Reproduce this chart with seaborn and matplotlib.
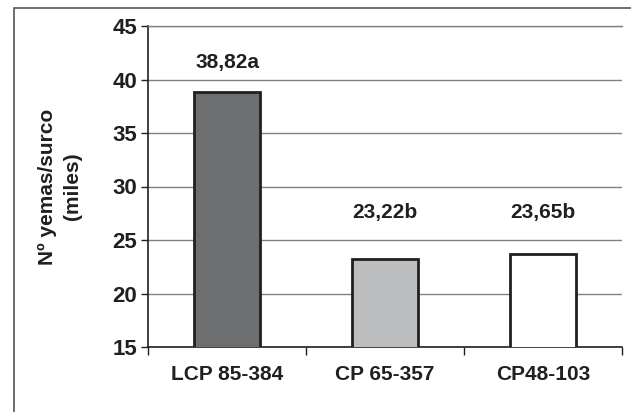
import matplotlib
matplotlib.use("Agg")
import matplotlib.pyplot as plt
import seaborn as sns
import pandas as pd
from matplotlib.patches import Rectangle

# Data
variedades = ["LCP 85-384", "CP 65-357", "CP48-103"]
yemas = [38.82, 23.22, 23.65]
etiquetas = ["38,82a", "23,22b", "23,65b"]
etiqueta_y = [41.6, 27.6, 27.6]
colores = ["#6d6e70", "#bcbec0", "#ffffff"]

sns.set_theme(style="white")
plt.rcParams["font.family"] = ["Liberation Sans", "DejaVu Sans"]
plt.rcParams["font.weight"] = "bold"

ink = "#231f20"
df = pd.DataFrame({"variedad": variedades, "yemas": yemas})

fig = plt.figure(figsize=(6.31, 4.12), dpi=100)
ax = fig.add_axes([148 / 631, 1 - 347 / 412, 474 / 631, 321 / 412])

# outer frame (clipped by the page edges)
fig.patches.append(Rectangle((14 / 631, -0.1), 1.2, 1 - 8 / 412 + 0.1,
                             transform=fig.transFigure, fill=False,
                             edgecolor="#555555", linewidth=1.2))

ax.yaxis.grid(True, color="#808080", linewidth=1.0)
ax.set_axisbelow(True)

sns.barplot(data=df, x="variedad", y="yemas", hue="variedad", palette=colores,
            width=0.42, edgecolor=ink, linewidth=2.0, legend=False, ax=ax,
            zorder=3)

for i, (txt, yy) in enumerate(zip(etiquetas, etiqueta_y)):
    ax.text(i, yy, txt, ha="center", va="center", fontsize=15,
            fontweight="bold", color=ink)

ax.set_ylim(15, 45)
ax.set_xlim(-0.5, 2.5)
ax.set_yticks(range(15, 46, 5))
ax.set_xticks(range(3))
ax.set_xticklabels(variedades)
ax.set_xticks([-0.5, 0.5, 1.5, 2.5], minor=True)
ax.tick_params(axis="x", which="major", length=0, pad=13, labelsize=15,
               labelcolor=ink)
ax.tick_params(axis="x", which="minor", length=6, width=1, color=ink,
               direction="out", bottom=True)
ax.tick_params(axis="y", length=5, width=1, color=ink, direction="out",
               labelsize=16, labelcolor=ink, left=True, pad=3)
for lab in ax.get_xticklabels() + ax.get_yticklabels():
    lab.set_fontweight("bold")

ax.set_xlabel("")
ax.set_ylabel("Nº yemas/surco\n(miles)", fontsize=15, fontweight="bold",
              color=ink, labelpad=22, linespacing=1.4)

for side in ["left", "bottom"]:
    ax.spines[side].set_color(ink)
    ax.spines[side].set_linewidth(1.2)
ax.spines["top"].set_color("#808080")
ax.spines["top"].set_linewidth(1.0)
ax.spines["right"].set_visible(False)

fig.savefig("out.png", dpi=100)
